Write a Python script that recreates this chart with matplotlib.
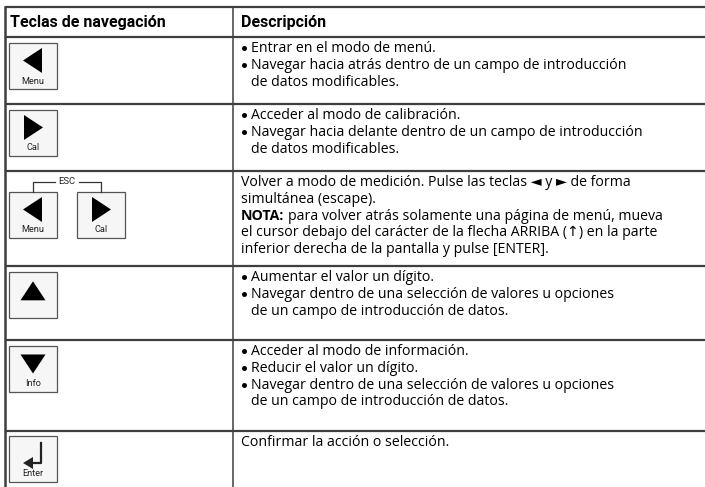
"""
Tabla de teclas de navegacion, redibujada con matplotlib.
"""
import matplotlib.pyplot as plt
from matplotlib.patches import Rectangle, Polygon

plt.rcParams['font.family'] = ['Open Sans', 'DejaVu Sans']

# --- contenido de la tabla ---
header_labels = ['Teclas de navegación', 'Descripción']

key_names = ['Menu', 'Cal', 'ESC', 'Up', 'Info', 'Enter']

# '*' al inicio = linea con viñeta, '-' = continuacion sangrada
desc_menu = [
    '*Entrar en el modo de menú.',
    '*Navegar hacia atrás dentro de un campo de introducción',
    '-de datos modificables.',
]
desc_cal = [
    '*Acceder al modo de calibración.',
    '*Navegar hacia delante dentro de un campo de introducción',
    '-de datos modificables.',
]
desc_esc = [
    'Volver a modo de medición. Pulse las teclas ◄ y ► de forma',
    'simultánea (escape).',
    'NOTA:|para volver atrás solamente una página de menú, mueva',
    'el cursor debajo del carácter de la flecha ARRIBA (↑) en la parte',
    'inferior derecha de la pantalla y pulse [ENTER].',
]
desc_up = [
    '*Aumentar el valor un dígito.',
    '*Navegar dentro de una selección de valores u opciones',
    '-de un campo de introducción de datos.',
]
desc_info = [
    '*Acceder al modo de información.',
    '*Reducir el valor un dígito.',
    '*Navegar dentro de una selección de valores u opciones',
    '-de un campo de introducción de datos.',
]
desc_enter = [
    'Confirmar la acción o selección.',
]
descriptions = [desc_menu, desc_cal, desc_esc, desc_up, desc_info, desc_enter]

# --- layout (pixels) ---
W, H = 705, 487
row_edges = [7, 37, 104, 171, 266, 340, 431]
x_left = 5
x_div = 233
x_text = 241
x_indent = 251
line_h = 16.8
line_color = '#3f3f3f'

fig = plt.figure(figsize=(W / 100, H / 100), dpi=100)
ax = fig.add_axes([0, 0, 1, 1])
ax.set_xlim(0, W)
ax.set_ylim(H, 0)
ax.axis('off')

# grid lines
for y in row_edges:
    ax.plot([x_left, W], [y, y], color=line_color, lw=1.6, solid_capstyle='butt')
ax.plot([x_left, x_left], [row_edges[0], H], color=line_color, lw=1.8)
ax.plot([x_div, x_div], [row_edges[0], H], color=line_color, lw=1.1)

# header
hy = (row_edges[0] + row_edges[1]) / 2 + 0.5
for x, lab in zip([10, x_text], header_labels):
    ax.text(x, hy, lab, fontsize=11.5, fontweight='bold', va='center', ha='left',
            family=['Roboto', 'DejaVu Sans'])

body_fs = 10.2
renderer = fig.canvas.get_renderer()

# description text
for i, lines in enumerate(descriptions):
    top = row_edges[i + 1]
    for j, line in enumerate(lines):
        y = top + 11.5 + j * line_h
        if line.startswith('*'):
            ax.plot([x_text + 3], [y - 0.5], 'o', ms=3.6, color='black', mec='none')
            ax.text(x_indent, y, line[1:], fontsize=body_fs, va='center', ha='left')
        elif line.startswith('-'):
            ax.text(x_indent, y, line[1:], fontsize=body_fs, va='center', ha='left')
        elif '|' in line:
            bold, rest = line.split('|')
            t = ax.text(x_text, y, bold, fontsize=body_fs, fontweight='bold',
                        va='center', ha='left')
            bb = t.get_window_extent(renderer)
            ax.text(bb.x1 + 3.5, y, rest, fontsize=body_fs, va='center', ha='left')
        else:
            ax.text(x_text, y, line, fontsize=body_fs, va='center', ha='left')


def draw_key(x0, y0, label=None, arrow=None, w=48, h=46):
    ax.add_patch(Rectangle((x0, y0), w, h, facecolor='#f6f6f6',
                           edgecolor='#555555', lw=0.9))
    cx = x0 + w / 2
    cy = y0 + (h * 0.38 if label else h * 0.42)
    if arrow == 'left':
        pts = [(cx - 10, cy), (cx + 9, cy - 12.5), (cx + 9, cy + 12.5)]
    elif arrow == 'right':
        pts = [(cx + 10, cy), (cx - 9, cy - 12.5), (cx - 9, cy + 12.5)]
    elif arrow == 'up':
        pts = [(cx, cy - 10), (cx - 12.5, cy + 9), (cx + 12.5, cy + 9)]
    elif arrow == 'down':
        pts = [(cx, cy + 10), (cx - 12.5, cy - 9), (cx + 12.5, cy - 9)]
    else:
        pts = None
    if pts:
        ax.add_patch(Polygon(pts, closed=True, facecolor='black', edgecolor='none'))
    if arrow == 'enter':
        ax.plot([cx + 8, cx + 8, cx - 2], [y0 + 7, y0 + 27, y0 + 27],
                color='#222222', lw=1.6)
        ax.add_patch(Polygon([(cx - 10, y0 + 27), (cx + 0, y0 + 21), (cx + 0, y0 + 33)],
                             closed=True, facecolor='#222222', edgecolor='none'))
    if label:
        ax.text(cx, y0 + h - 8, label, fontsize=6.6, ha='center', va='center',
                color='#222222', family=['Roboto', 'DejaVu Sans'])


bx = 9
draw_key(bx, row_edges[1] + 6, key_names[0], 'left')
draw_key(bx, row_edges[2] + 6, key_names[1], 'right')

# ESC row: two keys with bracket
esc_top = row_edges[3] + 21
draw_key(bx, esc_top, key_names[0], 'left')
draw_key(bx + 68, esc_top, key_names[1], 'right')
by = row_edges[3] + 11
c1 = bx + 24
c2 = bx + 68 + 24
ax.plot([c1, c1, c1 + 22], [esc_top, by, by], color='#333333', lw=0.9)
ax.plot([c2 - 22, c2, c2], [by, by, esc_top], color='#333333', lw=0.9)
ax.text((c1 + c2) / 2, by, key_names[2], fontsize=6.8, ha='center', va='center',
        color='#222222', family=['Roboto', 'DejaVu Sans'])

draw_key(bx, row_edges[4] + 6, None, 'up')
draw_key(bx, row_edges[5] + 6, key_names[4], 'down')
draw_key(bx, row_edges[6] + 5, key_names[5], 'enter')

fig.savefig('out.png', dpi=100)
